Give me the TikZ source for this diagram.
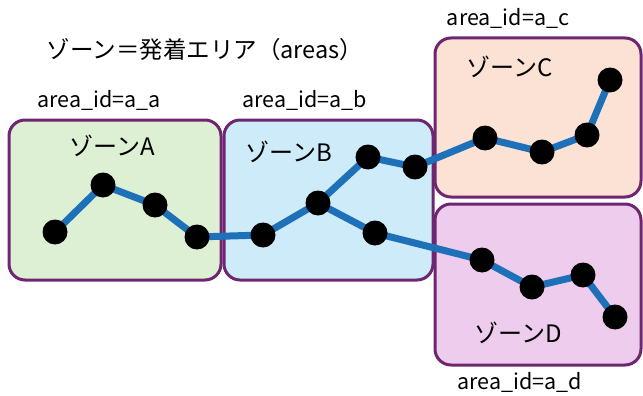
\documentclass[tikz,border=0pt]{standalone}
\usepackage{fontspec}
\setmainfont{Noto Sans CJK JP}
\begin{document}
\begin{tikzpicture}[x=1pt,y=-1pt,
  zone/.style={draw=zoneedge,line width=3pt,rounded corners=16pt},
  pt/.style={circle,fill=black,minimum width=23pt,minimum height=25pt,inner sep=0pt},
  route/.style={draw=routeblue,line width=7pt},
  lbl/.style={font=\fontsize{21.5}{24}\selectfont,inner sep=0pt},
  zlbl/.style={font=\fontsize{24}{28}\selectfont,inner sep=0pt}]
\definecolor{zoneedge}{HTML}{6E2670}
\definecolor{routeblue}{HTML}{1E70B8}
\definecolor{fa}{HTML}{DDF0D3}
\definecolor{fb}{HTML}{CDEBF8}
\definecolor{fc}{HTML}{FBE2D5}
\definecolor{fd}{HTML}{EECCEE}
\useasboundingbox (0,0) rectangle (643,396);
\draw[zone,fill=fa] (9,120) rectangle (221,280);
\draw[zone,fill=fb] (224,120) rectangle (433,280);
\draw[zone,fill=fc] (435,38) rectangle (641,197);
\draw[zone,fill=fd] (435,204) rectangle (641,365);
\node[lbl,font=\fontsize{23.5}{28}\selectfont] (title) at (205,50) {ゾーン＝発着エリア（areas）};
\node[lbl] (ia) at (99,100) {area\_id=a\_a};
\node[lbl] (ib) at (305,100) {area\_id=a\_b};
\node[lbl] (ic) at (508,18) {area\_id=a\_c};
\node[lbl] (id) at (520,382) {area\_id=a\_d};
\node[zlbl] (za) at (112,146) {ゾーンA};
\node[zlbl] (zb) at (289,152) {ゾーンB};
\node[zlbl] (zc) at (510,67) {ゾーンC};
\node[zlbl] (zd) at (518,333) {ゾーンD};
\coordinate (a1) at (55,232);
\coordinate (a2) at (103,185);
\coordinate (a3) at (155,205);
\coordinate (a4) at (197,237);
\coordinate (b1) at (263,235);
\coordinate (b2) at (318,203);
\coordinate (b3) at (368,157);
\coordinate (b4) at (415,167);
\coordinate (b5) at (375,233);
\coordinate (c1) at (485,138);
\coordinate (c2) at (542,152);
\coordinate (c3) at (587,135);
\coordinate (c4) at (610,80);
\coordinate (d1) at (482,260);
\coordinate (d2) at (532,287);
\coordinate (d3) at (583,275);
\coordinate (d4) at (615,317);
\draw[route,line join=round] (a1) -- (a2) -- (a3) -- (a4) -- (b1) -- (b2) -- (b3) -- (b4) -- (c1) -- (c2) -- (c3) -- (c4);
\draw[route,line join=round] (b2) -- (b5) -- (d1) -- (d2) -- (d3) -- (d4);
\foreach \p in {a1,a2,a3,a4,b1,b2,b3,b4,b5,c1,c2,c3,c4,d1,d2,d3,d4}
  \node[pt] (n\p) at (\p) {};
\end{tikzpicture}
\end{document}
